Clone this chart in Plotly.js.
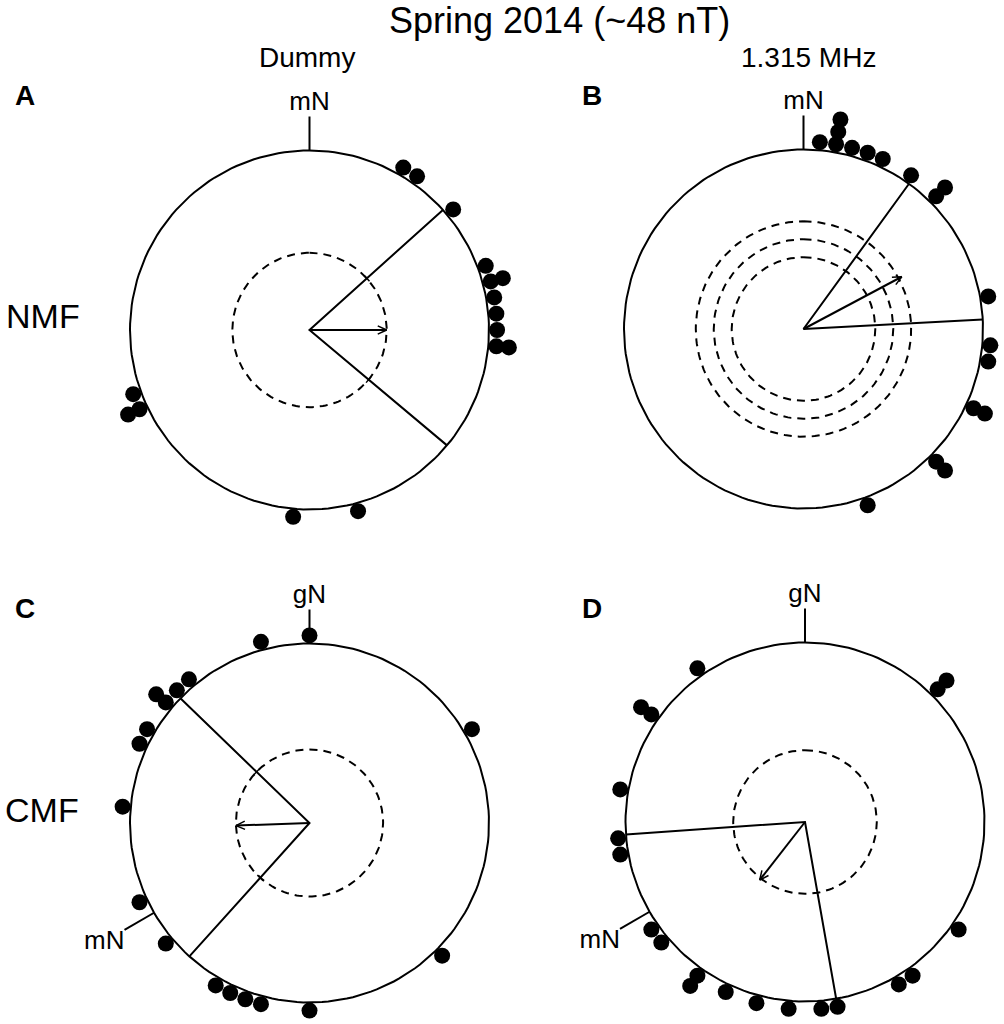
<!DOCTYPE html>
<html>
<head>
<meta charset="utf-8">
<script src="https://cdn.plot.ly/plotly-3.0.1.min.js"></script>
<style>
  body { margin: 0; background: #fff; }
  #chart { width: 1004px; height: 1024px; }
</style>
</head>
<body>
<div id="chart"></div>
<script>
// observed headings, degrees clockwise from the reference north (5 deg bins)
const anglesA = [30, 35, 50, 70, 75, 75, 80, 85, 90, 95, 95, 165, 185, 245, 245, 250];
const anglesB = [5, 10, 10, 10, 15, 20, 25, 35, 45, 45, 80, 95, 100, 115, 115, 135, 135, 160];
const anglesC = [0, 60, 135, 180, 195, 200, 205, 210, 230, 245, 275, 295, 300, 310, 310, 315, 320, 345];
const anglesD = [45, 45, 125, 145, 150, 170, 175, 185, 195, 205, 215, 215, 230, 235, 260, 265, 280, 305, 305, 325];

// mean vector (direction in deg, length r) per panel A..D
const meanDir = [90, 62, 268, 218];
const meanLen = [0.43, 0.62, 0.41, 0.41];

// 95% confidence limits of the mean direction
const ciLow = [48, 36, 222, 170];
const ciHigh = [130, 87, 314, 266];

// Rayleigh critical radii (dashed circles)
const critR = [[0.43], [0.40, 0.50, 0.60], [0.41], [0.40]];
const ciTicks = [true, false, true, false];

// reference directions drawn as ticks on the rim
const refAngles = [[0], [0], [0, 240], [0, 240]];
const refLabels = [['mN'], ['mN'], ['gN', 'mN'], ['gN', 'mN']];

const panelLetters = ['A', 'B', 'C', 'D'];
const columnLabels = ['Dummy', '1.315 MHz'];
const rowLabels = ['NMF', 'CMF'];
const titleText = 'Spring 2014 (~48 nT)';

const W = 1004, H = 1024;
const FONT = 'Arial, "Liberation Sans", sans-serif';
// circle centres / radius in px
const centres = [[309.5, 330], [803.5, 329], [309.5, 823], [805, 822]];
const RADIUS = 179.5;
const EXTENT = 1.3;
const DOT_R0 = 1.045, DOT_STEP = 0.07;
const TICK_END = 1.19;

const px = x => x / W;
const py = y => 1 - y / H;

function stackRadii(angles) {
    const seen = {};
    return angles.map(a => {
        const k = seen[a] || 0;
        seen[a] = k + 1;
        return DOT_R0 + k * DOT_STEP;
    });
}

// compass angle (clockwise from north) -> x, y
function toXY(r, th) {
    const a = th * Math.PI / 180;
    return [r * Math.sin(a), r * Math.cos(a)];
}

function polarTrace(rs, ths) {
    const x = [], y = [];
    rs.forEach((r, k) => {
        const p = toXY(r, ths[k]);
        x.push(p[0]); y.push(p[1]);
    });
    return {x, y};
}

function arrowHead(dir, len) {
    const [tx, ty] = toXY(len, dir);
    const x = [], y = [];
    [25, 0, -25].forEach(off => {
        if (off === 0) { x.push(tx); y.push(ty); return; }
        const [hx, hy] = toXY(0.055, dir + 180 + off);
        x.push(tx + hx); y.push(ty + hy);
    });
    return {x, y};
}

// short mark across a radial line at radius r
function crossMark(r, dir) {
    const [mx, my] = toXY(r, dir);
    const [dx, dy] = toXY(0.022, dir + 90);
    return {x: [mx - dx, mx + dx, null], y: [my - dy, my + dy, null]};
}

const ring = [];
for (let t = 0; t <= 360; t += 2) ring.push(t);

const allAngles = [anglesA, anglesB, anglesC, anglesD];
const data = [];
const layout = {
    width: W, height: H,
    margin: {l: 0, r: 0, t: 0, b: 0},
    paper_bgcolor: '#fff',
    plot_bgcolor: 'rgba(0,0,0,0)',
    showlegend: false,
    font: {family: FONT, color: '#000'},
    annotations: []
};

allAngles.forEach((angles, i) => {
    const n = i === 0 ? '' : String(i + 1);
    const xa = 'x' + n, ya = 'y' + n;
    const [cx, cy] = centres[i];
    const base = {xaxis: xa, yaxis: ya, hoverinfo: 'skip'};

    // outer circle
    const rim = polarTrace(ring.map(() => 1), ring);
    data.push(Object.assign({type: 'scatter', mode: 'lines', x: rim.x, y: rim.y,
        line: {color: '#000', width: 2}}, base));

    critR[i].forEach(rc => {
        const c = polarTrace(ring.map(() => rc), ring);
        data.push(Object.assign({type: 'scatter', mode: 'lines', x: c.x, y: c.y,
            line: {color: '#000', width: 2, dash: '8px,6px'}}, base));
    });

    const ci = polarTrace([1, 0, 1], [ciLow[i], ciLow[i], ciHigh[i]]);
    data.push(Object.assign({type: 'scatter', mode: 'lines', x: ci.x, y: ci.y,
        line: {color: '#000', width: 2}}, base));

    if (ciTicks[i]) {
        const rc = critR[i][critR[i].length - 1];
        const m1 = crossMark(rc, ciLow[i]), m2 = crossMark(rc, ciHigh[i]);
        data.push(Object.assign({type: 'scatter', mode: 'lines',
            x: m1.x.concat(m2.x), y: m1.y.concat(m2.y), connectgaps: false,
            line: {color: '#000', width: 1.5}}, base));
    }

    const shaft = polarTrace([0, meanLen[i]], [meanDir[i], meanDir[i]]);
    data.push(Object.assign({type: 'scatter', mode: 'lines', x: shaft.x, y: shaft.y,
        line: {color: '#000', width: 2}}, base));
    const head = arrowHead(meanDir[i], meanLen[i]);
    data.push(Object.assign({type: 'scatter', mode: 'lines', x: head.x, y: head.y,
        line: {color: '#000', width: 1.5}}, base));

    // reference direction ticks and labels
    refAngles[i].forEach((a, k) => {
        const tl = polarTrace([1, TICK_END], [a, a]);
        data.push(Object.assign({type: 'scatter', mode: 'lines', x: tl.x, y: tl.y,
            line: {color: '#000', width: 2}}, base));
        const end = toXY(TICK_END, a);
        const side = (a > 20 && a < 340) ? (a < 180 ? 'middle right' : 'bottom left') : 'top center';
        data.push(Object.assign({type: 'scatter', mode: 'text', x: [end[0]], y: [end[1]],
            text: [refLabels[i][k]], textposition: side, cliponaxis: false,
            textfont: {family: FONT, size: 26, color: '#000'}}, base));
    });

    const dots = polarTrace(stackRadii(angles), angles);
    data.push(Object.assign({type: 'scatter', mode: 'markers', x: dots.x, y: dots.y,
        cliponaxis: false,
        marker: {color: '#000', size: 16, line: {width: 0}}}, base));

    // axes: 1 unit = RADIUS px, clamped to the page
    const left = Math.max(cx - EXTENT * RADIUS, 0), right = Math.min(cx + EXTENT * RADIUS, W);
    const top = Math.max(cy - EXTENT * RADIUS, 0), bottom = Math.min(cy + EXTENT * RADIUS, H);
    const axCommon = {visible: false, showgrid: false, zeroline: false, fixedrange: true};
    layout['xaxis' + n] = Object.assign({
        domain: [px(left), px(right)],
        range: [(left - cx) / RADIUS, (right - cx) / RADIUS],
        anchor: ya
    }, axCommon);
    layout['yaxis' + n] = Object.assign({
        domain: [py(bottom), py(top)],
        range: [(cy - bottom) / RADIUS, (cy - top) / RADIUS],
        anchor: xa
    }, axCommon);
});

function note(text, x, y, size, bold) {
    layout.annotations.push({
        text: bold ? '<b>' + text + '</b>' : text,
        x: px(x), y: py(y), xref: 'paper', yref: 'paper',
        xanchor: 'center', yanchor: 'middle', showarrow: false,
        font: {family: FONT, size: size, color: '#000'}
    });
}

note(titleText, 559, 20, 36);
note(columnLabels[0], 307, 57, 28);
note(columnLabels[1], 808, 57, 28);
note(rowLabels[0], 43, 316, 34);
note(rowLabels[1], 42, 810, 34);
note(panelLetters[0], 25, 95, 28, true);
note(panelLetters[1], 592, 95, 28, true);
note(panelLetters[2], 25, 608, 28, true);
note(panelLetters[3], 592, 608, 28, true);

Plotly.newPlot('chart', data, layout, {staticPlot: true, displayModeBar: false});
</script>
</body>
</html>
